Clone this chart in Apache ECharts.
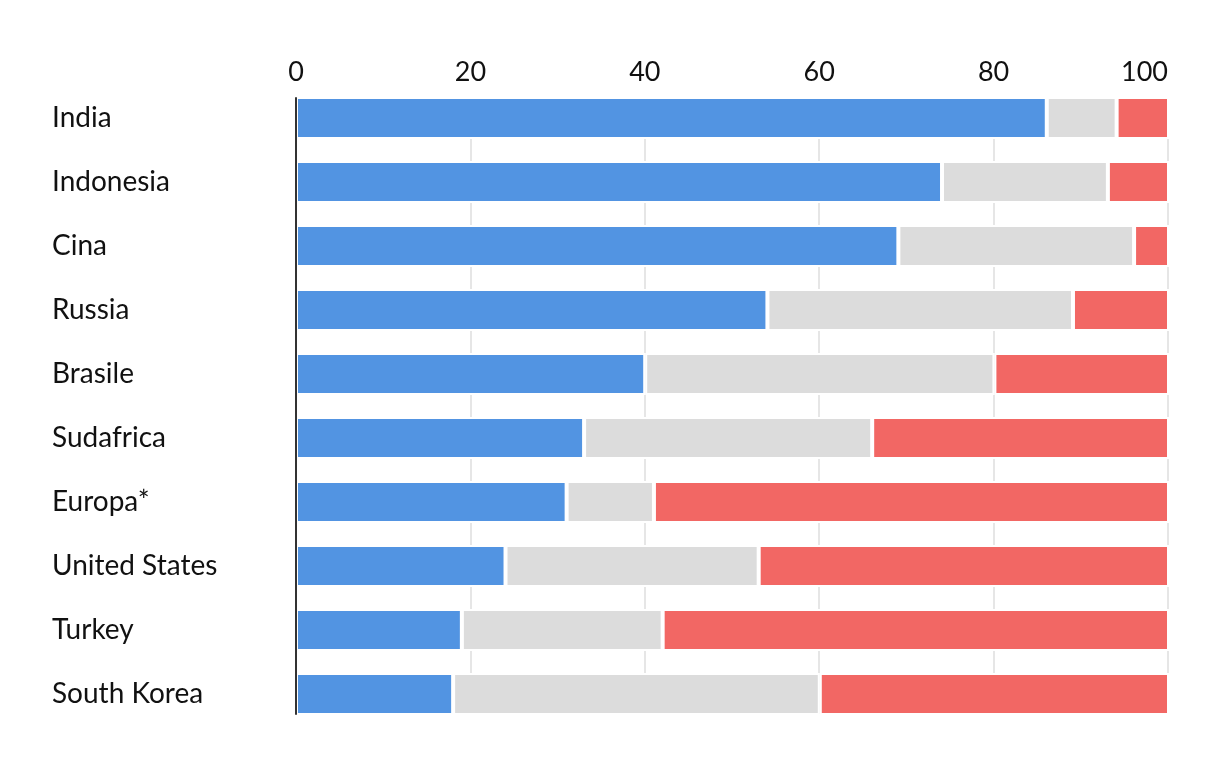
<!DOCTYPE html>
<html>
<head>
<meta charset="utf-8">
<script src="https://cdn.jsdelivr.net/npm/echarts@6/dist/echarts.min.js"></script>
<style>html,body{margin:0;padding:0;background:#fff;}#c{width:1220px;height:764px;}</style>
</head>
<body>
<div id="c"></div>
<script>
const categories = ['India','Indonesia','Cina','Russia','Brasile','Sudafrica','Europa*','United States','Turkey','South Korea'];
const blueValues = [86, 74, 69, 54, 40, 33, 31, 24, 19, 18];
const grayValues = [8, 19, 27, 35, 40, 33, 10, 29, 23, 42];
const redValues  = [6, 7, 4, 11, 20, 34, 59, 47, 58, 40];
const xTicks = [0, 20, 40, 60, 80, 100];

const FONT = 'Lato';
const chart = echarts.init(document.getElementById('c'));
const seg = (name, data, color) => ({
  name, type: 'bar', stack: 'all', data, barWidth: 42,
  xAxisIndex: 0, yAxisIndex: 0,
  itemStyle: { color, borderColor: '#ffffff', borderWidth: 2 },
  emphasis: { disabled: true }, z: 3
});
chart.setOption({
  animation: false,
  backgroundColor: '#ffffff',
  grid: [
    { left: 296, right: 51, top: 86, height: 640 },
    { left: 296, right: 52, top: 98, height: 616 }
  ],
  xAxis: [
    { gridIndex: 0, type: 'value', min: 0, max: 100, show: false },
    { gridIndex: 1, type: 'value', min: 0, max: 100, interval: 20, position: 'top',
      axisLine: { show: false }, axisTick: { show: false },
      axisLabel: { fontFamily: FONT, fontSize: 27, color: '#111', margin: 12,
        alignMaxLabel: 'right',
        formatter: v => xTicks.includes(v) ? String(v) : '' },
      splitLine: { show: true, lineStyle: { color: '#e6e6e6', width: 2 } } }
  ],
  yAxis: [
    { gridIndex: 0, type: 'category', data: categories, inverse: true,
      axisLine: { show: false }, axisTick: { show: false }, splitLine: { show: false },
      axisLabel: { fontFamily: FONT, fontSize: 28, color: '#111', align: 'left', margin: 244 } },
    { gridIndex: 1, type: 'value', min: 0, max: 1, z: 10,
      axisLine: { show: true, lineStyle: { color: '#333333', width: 2 } },
      axisTick: { show: false }, axisLabel: { show: false }, splitLine: { show: false } }
  ],
  series: [
    seg('blue', blueValues, '#5294e2'),
    seg('gray', grayValues, '#dcdcdc'),
    seg('red', redValues, '#f26764')
  ]
});
</script>
</body>
</html>
